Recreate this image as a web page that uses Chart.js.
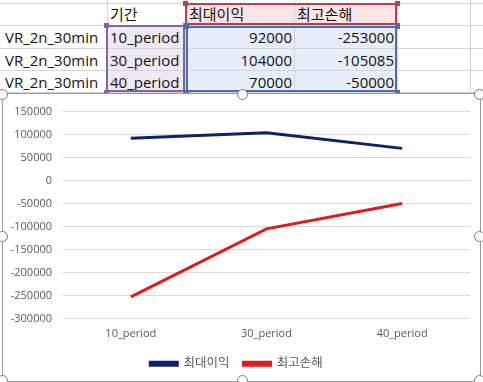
<!DOCTYPE html>
<html>
<head>
<meta charset="utf-8">
<script src="https://cdn.jsdelivr.net/npm/chart.js@4/dist/chart.umd.min.js"></script>
<style>
  html, body { margin: 0; padding: 0; background: #fff; width: 483px; height: 382px; overflow: hidden; }
  body { position: relative; font-family: "Open Sans", "Noto Sans CJK KR", sans-serif; }
  .hl { position: absolute; height: 1px; background: #d4d4d4; }
  .vl { position: absolute; width: 1px; background: #d4d4d4; }
  .cell { position: absolute; font-size: 15px; color: #111; line-height: 22px; white-space: nowrap; font-family: "Open Sans", "Noto Sans CJK KR", sans-serif; }
  .fill { position: absolute; }
  .box { position: absolute; box-sizing: border-box; border: 2px solid; }
  .sq { position: absolute; width: 5px; height: 5px; }
  #frame { position: absolute; left: 3px; top: 94px; width: 477px; height: 287px; background: #fff; }
  #c { display: block; }
  #frameBorder { position: absolute; left: 2px; top: 93px; width: 477px; height: 287px; border: 1.5px solid #9a9a9a; pointer-events: none; }
  .handle { position: absolute; width: 9px; height: 9px; border-radius: 50%; border: 1.5px solid #7a7a7a; background: #fff; }
</style>
</head>
<body>
<div id="sheet"></div>
<div id="frame"><canvas id="c" width="477" height="287"></canvas></div>
<div id="frameBorder"></div>
<div id="handles"></div>
<script>
// ---- data ----
const rowNames = ["VR_2n_30min", "VR_2n_30min", "VR_2n_30min"];
const categoryHeader = "기간";
const categories = ["10_period", "30_period", "40_period"];
const seriesNames = ["최대이익", "최고손해"];
const maxProfit = [92000, 104000, 70000];
const maxLoss = [-253000, -105085, -50000];
const yMin = -300000, yMax = 150000, yStep = 50000;

// ---- spreadsheet background ----
const sheet = document.getElementById('sheet');
function el(cls, style, text) {
  const d = document.createElement('div');
  d.className = cls;
  Object.assign(d.style, style);
  if (text !== undefined) d.textContent = text;
  sheet.appendChild(d);
  return d;
}
const rowLines = [3, 25, 48, 70, 92];
const colLines = [107, 185, 294, 397, 470];
// fills
el('fill', {left: '186px', top: '4px', width: '211px', height: '21px', background: '#fbe5e6'});
el('fill', {left: '108px', top: '26px', width: '77px', height: '66px', background: '#efe9f5'});
el('fill', {left: '186px', top: '26px', width: '211px', height: '66px', background: '#e7eef9'});
rowLines.forEach(y => el('hl', {left: '0px', top: y + 'px', width: '483px'}));
colLines.forEach(x => el('vl', {left: x + 'px', top: '0px', height: '94px'}));
// texts
el('cell', {left: '110px', top: '3px'}, categoryHeader);
el('cell', {left: '189px', top: '3px'}, seriesNames[0]);
el('cell', {left: '297px', top: '3px'}, seriesNames[1]);
for (let i = 0; i < 3; i++) {
  const top = (26 + i * 22.5) + 'px';
  el('cell', {left: '5px', top}, rowNames[i]);
  el('cell', {left: '110px', top}, categories[i]);
  el('cell', {right: (483 - 292) + 'px', top}, String(maxProfit[i]));
  el('cell', {right: (483 - 394) + 'px', top}, String(maxLoss[i]));
}
// highlight boxes
function hbox(l, t, r, b, color) {
  el('box', {left: l + 'px', top: t + 'px', width: (r - l) + 'px', height: (b - t) + 'px', borderColor: color});
  [[l, t], [r, t], [l, b], [r, b]].forEach(([x, y]) =>
    el('sq', {left: (x - 2.5) + 'px', top: (y - 2.5) + 'px', background: color}));
}
hbox(185, 3, 397, 25, '#b4414f');
hbox(106, 25, 185, 92, '#8064a2');
hbox(186, 26, 397, 92, '#4f6ea8');

// handles
const hs = document.getElementById('handles');
[[3, 95], [243, 95], [480, 95], [3, 237], [480, 237], [3, 381], [243, 381], [480, 381]].forEach(([x, y]) => {
  const d = document.createElement('div');
  d.className = 'handle';
  d.style.left = (x - 6) + 'px';
  d.style.top = (y - 6) + 'px';
  hs.appendChild(d);
});

// ---- chart ----
const font = "'Open Sans', 'Noto Sans CJK KR', sans-serif";
new Chart(document.getElementById('c'), {
  type: 'line',
  data: {
    labels: categories,
    datasets: [
      { label: seriesNames[0], data: maxProfit, borderColor: '#0c2461', backgroundColor: '#0c2461', borderWidth: 3, pointRadius: 0, tension: 0, fill: false },
      { label: seriesNames[1], data: maxLoss, borderColor: '#e01b1b', backgroundColor: '#e01b1b', borderWidth: 3, pointRadius: 0, tension: 0, fill: false }
    ]
  },
  options: {
    responsive: false,
    animation: false,
    devicePixelRatio: 1,
    layout: { padding: { left: 0, right: 10, top: 8, bottom: 1 } },
    scales: {
      y: {
        min: yMin, max: yMax,
        ticks: { stepSize: yStep, color: '#595959', font: { family: font, size: 11 }, padding: 11,
                 callback: v => String(v) },
        grid: { color: '#d9d9d9', drawTicks: false, lineWidth: 1 },
        border: { display: false },
        afterFit: s => { s.width = 60; }
      },
      x: {
        offset: true,
        ticks: { color: '#595959', font: { family: font, size: 11 }, padding: 9, maxRotation: 0 },
        grid: { display: false, drawTicks: false },
        border: { display: false },
        afterFit: s => { s.height = 25; }
      }
    },
    plugins: {
      legend: {
        position: 'bottom',
        labels: { boxWidth: 27, boxHeight: 3, padding: 14, color: '#595959', font: { family: font, size: 12.5 } }
      },
      tooltip: { enabled: false }
    }
  }
});
</script>
</body>
</html>
